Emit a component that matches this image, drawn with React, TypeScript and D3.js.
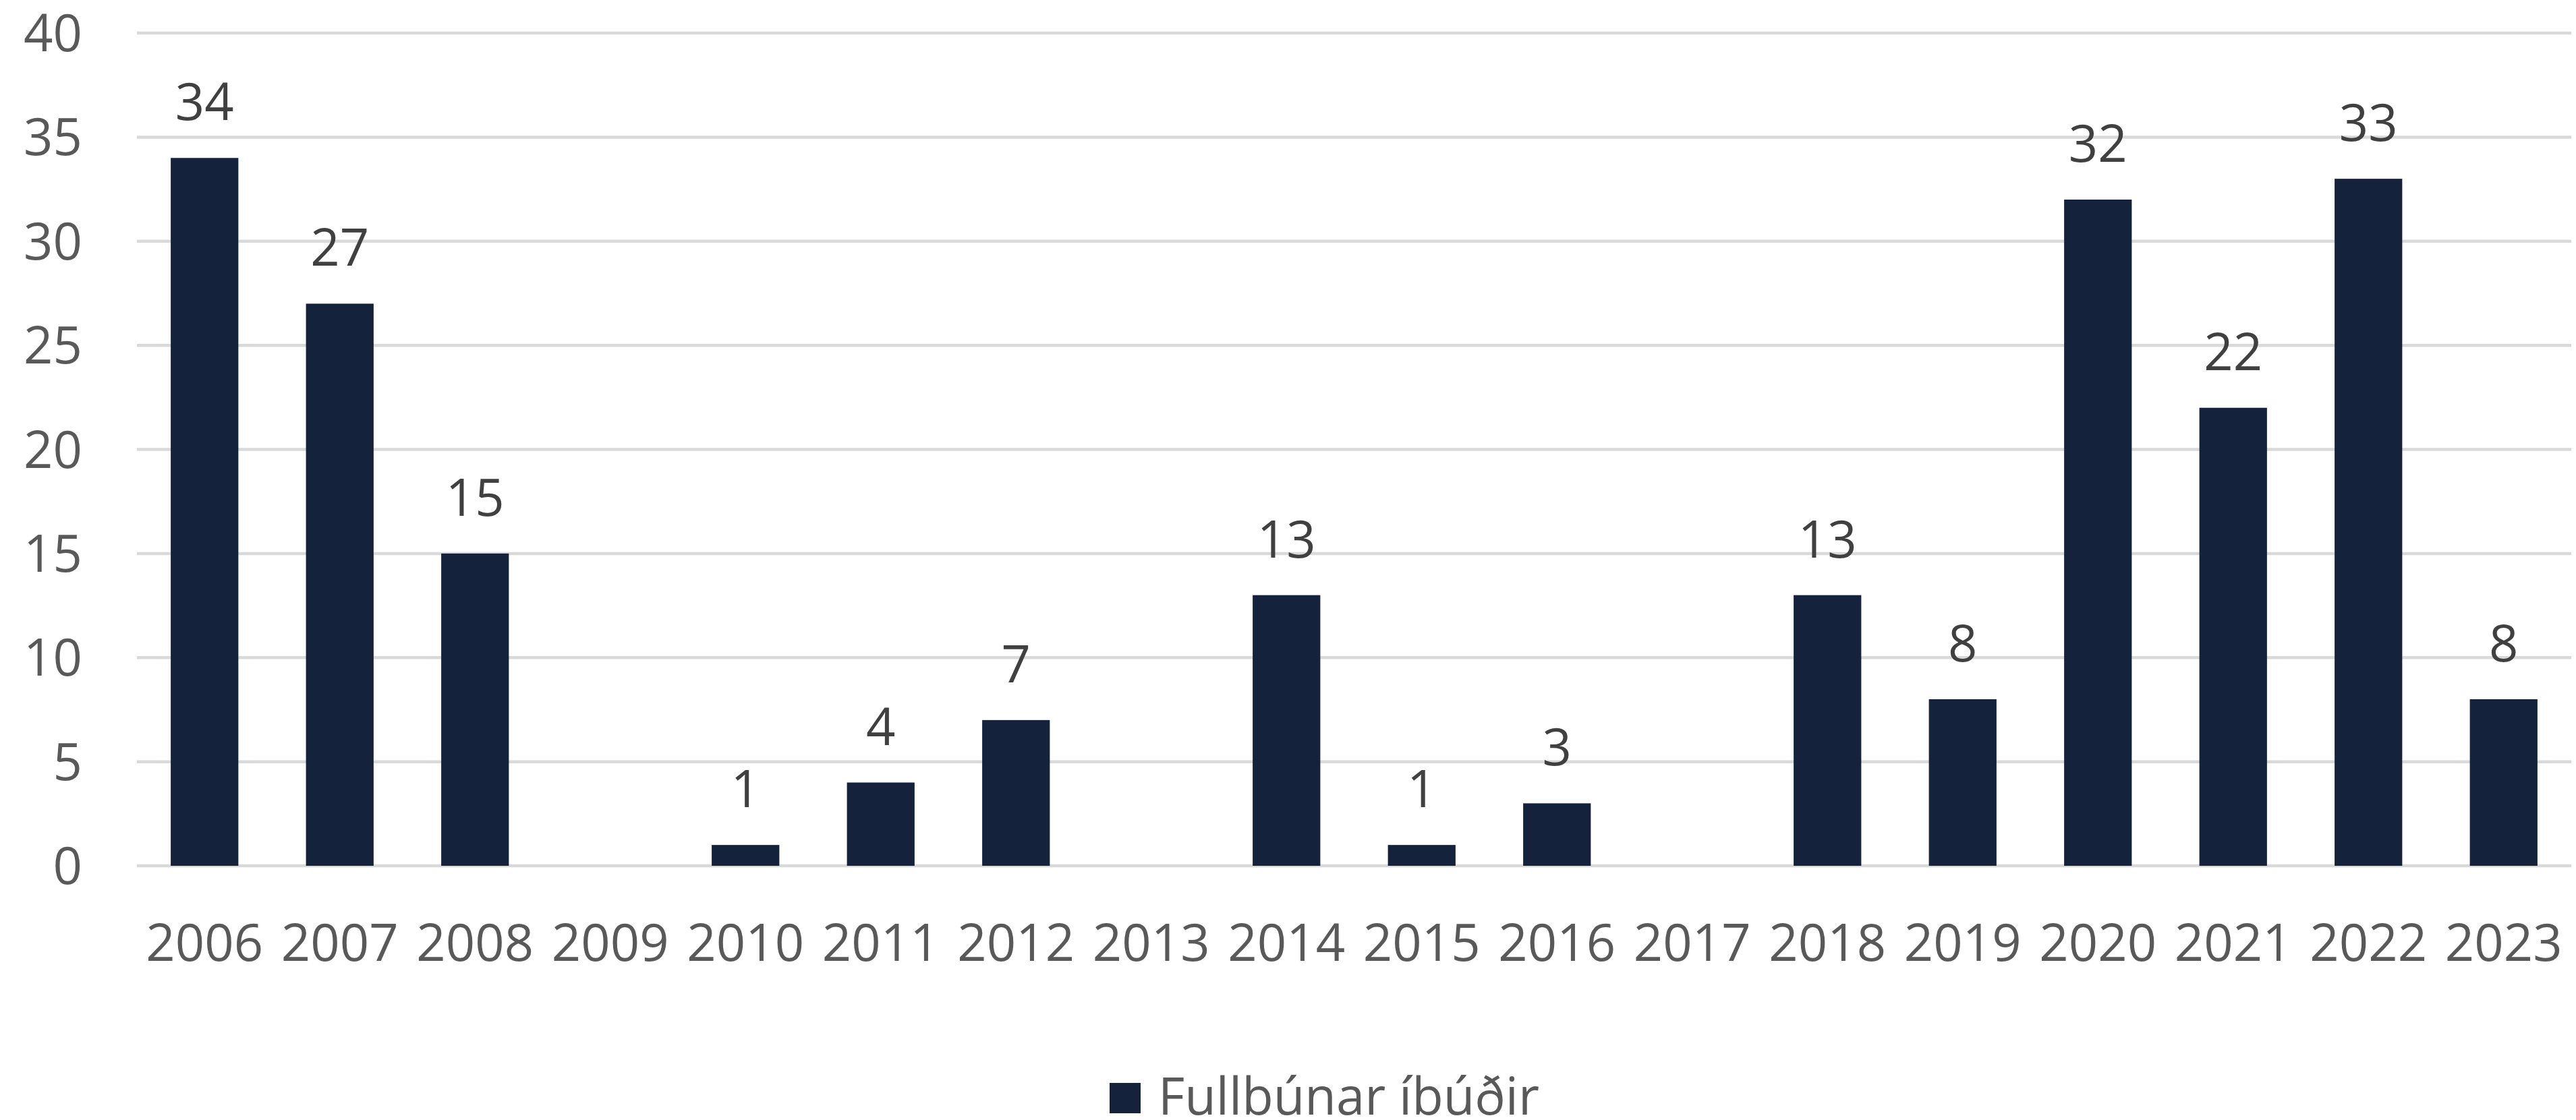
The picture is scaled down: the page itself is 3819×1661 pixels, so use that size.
import React from "react";
import * as d3 from "d3";

const years: string[] = ["2006","2007","2008","2009","2010","2011","2012","2013","2014","2015","2016","2017","2018","2019","2020","2021","2022","2023"];
const values: number[] = [34,27,15,0,1,4,7,0,13,1,3,0,13,8,32,22,33,8];
const yTicks: number[] = [0,5,10,15,20,25,30,35,40];
const seriesName = "Fullbúnar íbúðir";

const W = 3819;
const H = 1661;
const FONT = "'Open Sans', 'DejaVu Sans', sans-serif";
const BAR = "#14223c";
const GRID = "#d9d9d9";
const AXIS_TXT = "#595959";
const LABEL_TXT = "#404040";

export default function App() {
  const x = d3.scaleBand<string>().domain(years).range([203, 3812]).paddingInner(0.5).paddingOuter(0.25);
  const y = d3.scaleLinear().domain([0, 40]).range([1284, 49]);
  const fs = 76;
  return (
    <svg width={W} height={H} style={{ position: "absolute", left: 0, top: 0, display: "block", background: "#fff" }} fontFamily={FONT}>
      <rect x={0} y={0} width={W} height={H} fill="#fff" />
      {yTicks.map((t) => (
        <g key={t}>
          <line x1={203} x2={3812} y1={y(t)} y2={y(t)} stroke={GRID} strokeWidth={4.5} />
          <text x={122} y={y(t) + 27} textAnchor="end" fontSize={fs} fill={AXIS_TXT}>{t}</text>
        </g>
      ))}
      {years.map((yr, i) => {
        const v = values[i];
        const bx = x(yr)!;
        const bw = x.bandwidth();
        const cx = bx + bw / 2;
        return (
          <g key={yr}>
            {v > 0 && (
              <rect x={bx} y={y(v)} width={bw} height={y(0) - y(v)} fill={BAR} />
            )}
            {v > 0 && (
              <text x={cx} y={y(v) - 56} textAnchor="middle" fontSize={fs} fill={LABEL_TXT}>{v}</text>
            )}
            <text x={cx} y={1425} textAnchor="middle" fontSize={fs} fill={AXIS_TXT}>{yr}</text>
          </g>
        );
      })}
      <rect x={1645} y={1606} width={46} height={45} fill={BAR} />
      <text x={1717} y={1653} fontSize={fs} fill={AXIS_TXT}>{seriesName}</text>
    </svg>
  );
}
